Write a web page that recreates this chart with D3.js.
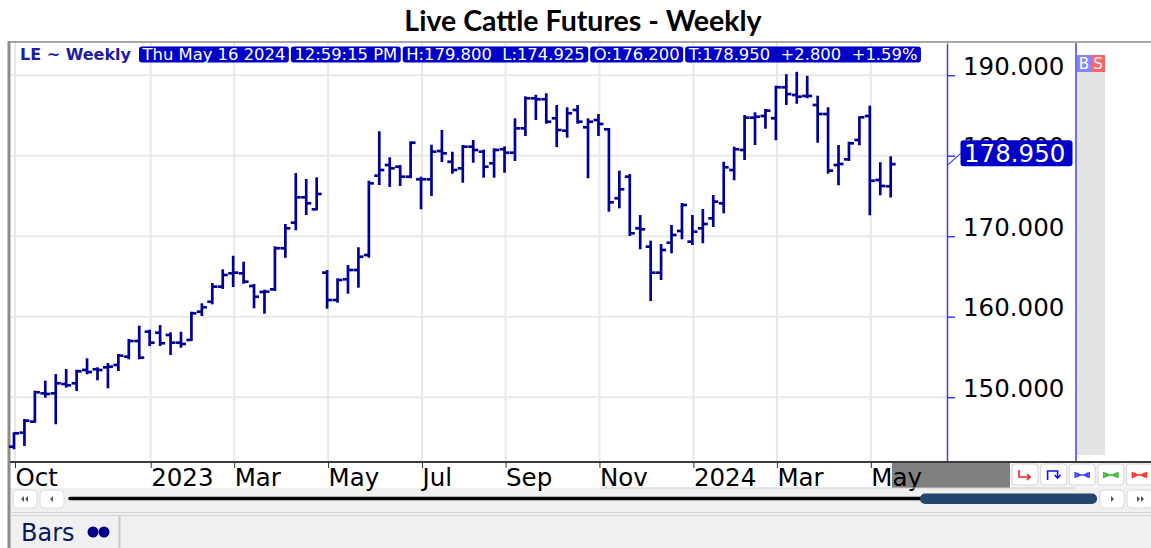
<!DOCTYPE html>
<html>
<head>
<meta charset="utf-8">
<script src="https://d3js.org/d3.v7.min.js"></script>
<style>
  body { margin: 0; background: #fff; }
  svg { display: block; }
</style>
</head>
<body>
<svg id="chart"></svg>
<script>
// weekly bars, one per week (week ending Friday)
const firstWeek = "2022-10-07";
const lastWeek = "2024-05-17";

const open = [143.85,145.59,146.96,150.48,150.48,151.64,151.73,153.38,153.47,153.71,
  154,155.03,156.98,158.14,158.01,157.73,156.77,157.11,160.62,161.86,
  163.73,165.39,165.39,163.81,163.07,163.4,168.5,171.68,174.83,173.34,
  165.47,162.07,164.65,165.8,167.66,177.52,178.84,178.63,177.39,177.07,
  177.07,180.58,179.25,178.43,181.12,180.5,179.06,180.8,180.37,183.4,
  187.13,187.01,184.65,183.11,185.68,183.53,184.43,183.28,174.71,177.39,
  170.98,168.7,165.47,169.19,170.65,169.32,170.98,172.22,174.09,178.22,
  180.71,184.72,184.93,184.65,188.5,187.54,187.42,186.3,185.18,178.84,
  179.55,181.95,184.93,176.98,176.2];
const high = [145.52,147.17,150.68,151.93,152.76,153.38,153.29,154.71,153.59,154.12,
  155.24,157.11,158.76,158.26,158.84,157.94,158.01,160.5,161.54,164.06,
  165.76,167.45,166.71,163.94,163.23,168.62,171.39,177.73,176.98,177.19,
  165.68,164.65,166.3,168.5,176.77,182.91,179.68,178.72,181.66,177.27,
  181.24,183.07,180.37,181.2,181.83,180.62,180.8,181.04,184.52,187.25,
  187.45,187.63,186.17,185.89,186.17,184.52,185.06,183.32,178.01,177.6,
  172.51,169.32,168.91,171.27,174,172.51,173.25,174.99,179.13,180.99,
  184.93,185.27,185.68,188.57,190.0,190.3,189.8,187.33,185.89,181.2,
  181.61,184.77,186.09,179.06,179.8];
const low = [143.65,144.06,146.96,150.06,146.76,151.31,150.9,152.97,152.22,151.23,
  153.38,154.83,154.83,156.48,156.48,155.37,156.27,157.11,160.21,161.66,
  163.57,163.81,164.22,161.17,160.5,163.32,167.45,170.86,172.76,173.34,
  161.12,161.86,162.98,163.73,167.45,176.48,176.24,176.36,177.32,173.47,
  175.12,179.34,177.89,176.77,179.25,177.39,177.39,178.01,179.47,182.57,
  184.56,184.1,181.2,182.36,184.1,177.32,182.57,173.17,173.59,170.15,
  168.5,162.07,164.68,168,169.74,169.03,169.24,171.27,172.97,177.07,
  179.59,181.45,183.48,182.04,186.42,186.58,187.25,181.74,177.89,176.45,
  179.47,181.42,172.72,175.2,174.925];
const close = [145.52,147.08,150.61,150.4,151.73,151.48,153.22,153.13,153.38,153.79,
  155.16,156.98,154.91,156.77,156.7,156.77,156.61,160.42,161.17,163.73,
  165.18,165.47,164.35,162.48,163.11,168.5,170.98,174.83,174.09,175.24,
  162.07,164.56,165.8,167.45,176.57,178.22,178.43,177.39,181.61,177.07,
  180.5,180.3,178.22,181.12,180.71,178.63,180.71,180.37,183.4,187.13,
  187.01,184.22,183.19,185.27,184.22,184.22,183.94,174.21,175.83,170.36,
  170.86,165.47,168.29,170.15,173.88,170.56,171.52,174.29,178.56,180.8,
  184.72,184.84,185.59,188.5,187.66,187.33,187.42,185.18,178.14,178.97,
  181.54,184.77,176.89,176.24,178.95];

const tickDates = ["2022-10-07","2023-01-06","2023-03-03","2023-05-05","2023-07-07",
  "2023-09-01","2023-11-03","2024-01-05","2024-03-01","2024-05-03"];
const tickLabels = ["Oct","2023","Mar","May","Jul","Sep","Nov","2024","Mar","May"];
const yTicks = [150, 160, 170, 180, 190];

const title = "Live Cattle Futures - Weekly";
const symbolLabel = "LE ~ Weekly";
const infoBoxes = ["Thu May 16 2024", "12:59:15 PM", "H:179.800  L:174.925",
  "O:176.200", "T:178.950  +2.800  +1.59%"];
const lastPrice = 178.95;

const width = 1151, height = 548;
const plotLeft = 10, plotTop = 43, plotBottom = 462, axisX = 947, axisRight = 1076;
const barColor = "#000096", boxBlue = "#0000c8", lineBlue = "#3c3cff";
const font = '"DejaVu Sans", Verdana, sans-serif';

const parse = d3.timeParse("%Y-%m-%d");
const dates = d3.timeFriday.range(parse(firstWeek), d3.timeDay.offset(parse(lastWeek), 1));
const bars = dates.map((d, i) => ({ date: d, o: open[i], h: high[i], l: low[i], c: close[i] }));
const ticks = tickDates.map(parse);

const x = d3.scaleTime().domain([dates[0], dates[dates.length - 1]]).range([14, 890.7]);
const y = d3.scaleLinear().domain([141.95, 194]).range([plotBottom, plotTop]);

const svg = d3.select("#chart")
  .attr("width", width).attr("height", height)
  .attr("viewBox", [0, 0, width, height])
  .style("font-family", font);

// title
svg.append("text")
  .attr("x", 583).attr("y", 31)
  .attr("text-anchor", "middle")
  .style("font-family", "Lato, 'Open Sans', sans-serif")
  .attr("font-weight", "bold").attr("font-size", 28.5)
  .text(title);

// frame and panels
svg.append("rect").attr("x", plotLeft).attr("y", 488).attr("width", width - plotLeft).attr("height", height - 488).attr("fill", "#f0f0f0");
svg.append("rect").attr("x", 1077).attr("y", 55).attr("width", 28).attr("height", 400).attr("fill", "#e3e3e3");
svg.append("line").attr("x1", 8).attr("x2", width).attr("y1", 42).attr("y2", 42).attr("stroke", "#a6a6a6").attr("stroke-width", 2);
svg.append("line").attr("x1", 9).attr("x2", 9).attr("y1", 41).attr("y2", 548).attr("stroke", "#8c8c8c").attr("stroke-width", 3);

// grid
const grid = svg.append("g").attr("stroke", "#e8e8e8").attr("stroke-width", 2);
grid.selectAll(".gx").data(ticks).join("line")
  .attr("x1", d => x(d) + 1).attr("x2", d => x(d) + 1)
  .attr("y1", plotTop).attr("y2", plotBottom);
grid.selectAll(".gy").data(yTicks).join("line")
  .attr("x1", plotLeft + 1).attr("x2", axisX)
  .attr("y1", d => y(d)).attr("y2", d => y(d));

// header line
svg.append("text")
  .attr("x", 20).attr("y", 59.5)
  .attr("font-weight", "bold").attr("font-size", 16)
  .attr("fill", "#1c1ca6")
  .text(symbolLabel);

const info = svg.append("g");
let bx = 139;
infoBoxes.forEach(s => {
  const g = info.append("g");
  const r = g.append("rect").attr("y", 46.5).attr("height", 16).attr("rx", 3).attr("fill", boxBlue);
  const t = g.append("text").attr("x", bx + 3.5).attr("y", 60)
    .attr("font-size", 16.4).attr("fill", "white")
    .style("white-space", "pre").text(s);
  const w = t.node().getComputedTextLength();
  r.attr("x", bx).attr("width", w + 7);
  bx += w + 9;
});

// OHLC bars
const gb = svg.append("g").attr("stroke", barColor).attr("stroke-width", 2.7);
gb.selectAll(".hl").data(bars).join("line")
  .attr("x1", d => x(d.date)).attr("x2", d => x(d.date))
  .attr("y1", d => y(d.h) - 1).attr("y2", d => y(d.l) + 1);
gb.selectAll(".op").data(bars).join("line")
  .attr("x1", d => x(d.date) - 5).attr("x2", d => x(d.date))
  .attr("y1", d => y(d.o)).attr("y2", d => y(d.o));
gb.selectAll(".cl").data(bars).join("line")
  .attr("x1", d => x(d.date)).attr("x2", d => x(d.date) + 5)
  .attr("y1", d => y(d.c)).attr("y2", d => y(d.c));

// right price axis
const yAxis = svg.append("g")
  .attr("transform", `translate(${axisX},0)`)
  .call(d3.axisRight(y).tickValues(yTicks).tickSize(8).tickSizeOuter(0).tickFormat(d3.format(".3f")));
yAxis.select(".domain").attr("stroke", lineBlue).attr("stroke-width", 1.5);
yAxis.selectAll(".tick line").attr("stroke", lineBlue).attr("stroke-width", 1.5);
yAxis.selectAll(".tick text")
  .attr("x", 16).attr("dy", -1)
  .attr("font-size", 24.5).attr("fill", "black")
  .style("font-family", font);
svg.append("line").attr("x1", axisRight).attr("x2", axisRight).attr("y1", plotTop).attr("y2", plotBottom)
  .attr("stroke", lineBlue).attr("stroke-width", 1.5);

// last price marker (sits over the 180.000 label, as in the terminal)
const ly = y(lastPrice);
svg.append("line").attr("x1", axisX).attr("y1", ly + 1.5).attr("x2", 961).attr("y2", ly - 11)
  .attr("stroke", lineBlue).attr("stroke-width", 1.2);
svg.append("rect").attr("x", 960.5).attr("y", ly - 24).attr("width", 112).attr("height", 26)
  .attr("rx", 3).attr("fill", boxBlue);
svg.append("text").attr("x", 964).attr("y", ly - 2)
  .attr("font-size", 24.5).attr("fill", "white").text(lastPrice.toFixed(3));

// B / S tabs
[["B", 1077, "#8585ff"], ["S", 1091, "#ff6464"]].forEach(([s, bxx, c]) => {
  svg.append("rect").attr("x", bxx).attr("y", 55).attr("width", 14).attr("height", 17).attr("fill", c);
  svg.append("text").attr("x", bxx + 7).attr("y", 69).attr("text-anchor", "middle")
    .attr("font-size", 15).attr("fill", "white").text(s);
});

// time axis
svg.append("rect").attr("x", 892).attr("y", 463).attr("width", 118).attr("height", 25).attr("fill", "#808080");
svg.append("rect").attr("x", 1010).attr("y", 463).attr("width", 141).attr("height", 25).attr("fill", "#f4f4f4");
const xAxis = svg.append("g")
  .attr("transform", `translate(1,${plotBottom})`)
  .call(d3.axisBottom(x).tickValues(ticks).tickSize(6).tickFormat((d, i) => tickLabels[i]));
xAxis.select(".domain").remove();
xAxis.selectAll(".tick line").attr("stroke", "#333");
xAxis.selectAll(".tick text")
  .attr("text-anchor", "start").attr("y", 24).attr("dy", 0)
  .attr("font-size", 24.5).attr("fill", "black")
  .style("font-family", font);
svg.append("line").attr("x1", plotLeft).attr("x2", width).attr("y1", plotBottom).attr("y2", plotBottom)
  .attr("stroke", "#3a3a3a").attr("stroke-width", 2);
svg.append("line").attr("x1", 600).attr("x2", 1075).attr("y1", 488).attr("y2", 488)
  .attr("stroke", "#cfcfcf").attr("stroke-width", 1);

// drawing tool buttons
const bowtie = "M-7,-3V3 M7,-3V3 M-6,0H6 M-6,-2L-2,0L-6,2 M6,-2L2,0L6,2";
const tools = [
  { c: "#ff2020", d: "M-6,-5V2H5 M2,-1L5,2L2,5" },
  { c: "#1010ff", d: "M-6,5V-4H4V2 M1,0L4,3L7,0" },
  { c: "#4040ff", d: bowtie },
  { c: "#30c030", d: bowtie },
  { c: "#ff3030", d: bowtie }
];
tools.forEach((t, i) => {
  const gx = 1012 + i * 28.6;
  svg.append("rect").attr("x", gx).attr("y", 464).attr("width", 26).attr("height", 21)
    .attr("rx", 3).attr("fill", "white").attr("stroke", "#d4d4d4");
  svg.append("path").attr("transform", `translate(${gx + 13},${475})`)
    .attr("d", t.d).attr("fill", "none").attr("stroke", t.c).attr("stroke-width", 1.6);
});

// scrollbar
const scrollBtn = (bx0, w, d) => {
  svg.append("rect").attr("x", bx0).attr("y", 490).attr("width", w).attr("height", 18)
    .attr("rx", 4).attr("fill", "white").attr("stroke", "#dadada");
  svg.append("path").attr("transform", `translate(${bx0 + w / 2},499)`).attr("d", d).attr("fill", "#555");
};
scrollBtn(13, 24, "M-1,-3V3L-4,0Z M3,-3V3L0,0Z");
scrollBtn(40, 24, "M1,-3V3L-2,0Z");
scrollBtn(1100, 24, "M-1,-3V3L2,0Z");
scrollBtn(1127, 26, "M-3,-3V3L0,0Z M1,-3V3L4,0Z");
svg.append("line").attr("x1", 70).attr("x2", 1095).attr("y1", 498.5).attr("y2", 498.5)
  .attr("stroke", "black").attr("stroke-width", 3.5).attr("stroke-linecap", "round");
svg.append("rect").attr("x", 920).attr("y", 493.5).attr("width", 177).attr("height", 10.5)
  .attr("rx", 5).attr("fill", "#23466e");

// bottom panel
svg.append("line").attr("x1", plotLeft).attr("x2", width).attr("y1", 512.5).attr("y2", 512.5).attr("stroke", "#d2d2d2");
svg.append("line").attr("x1", plotLeft).attr("x2", width).attr("y1", 515.5).attr("y2", 515.5).attr("stroke", "#d2d2d2");
svg.append("line").attr("x1", 119.5).attr("x2", 119.5).attr("y1", 516).attr("y2", height).attr("stroke", "#c8c8c8").attr("stroke-width", 2);
svg.append("text").attr("x", 21).attr("y", 541)
  .attr("font-size", 24).attr("fill", "#0b1a5c").text("Bars");
svg.append("g").attr("fill", "#00008b").selectAll("circle").data([93, 104]).join("circle")
  .attr("cx", d => d).attr("cy", 532).attr("r", 5.5);
</script>
</body>
</html>
